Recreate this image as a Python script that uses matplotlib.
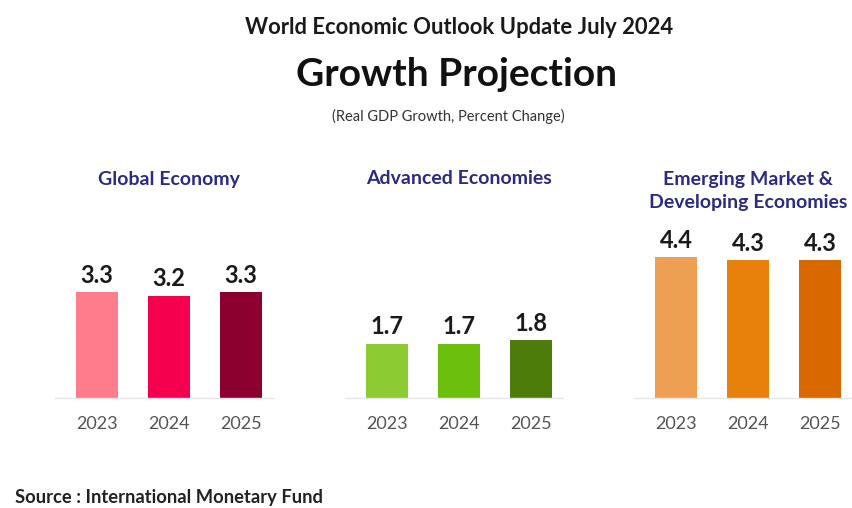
import matplotlib
matplotlib.use("Agg")
import matplotlib.pyplot as plt

plt.rcParams['font.family'] = ['Lato', 'DejaVu Sans']

# Data
years = ["2023", "2024", "2025"]
global_economy = [3.3, 3.2, 3.3]
advanced_economies = [1.7, 1.7, 1.8]
emerging_economies = [4.4, 4.3, 4.3]

panel_titles = ["Global Economy", "Advanced Economies",
                "Emerging Market &\nDeveloping Economies"]
panel_values = [global_economy, advanced_economies, emerging_economies]
panel_colors = [
    ["#FF7C8C", "#F5004F", "#8C0030"],
    ["#8CCB32", "#6CBF0C", "#4E7C0A"],
    ["#EEA052", "#E8800C", "#DA6800"],
]

W, H = 852, 508
fig = plt.figure(figsize=(W / 100, H / 100), dpi=100, facecolor="white")

def fx(px):
    return px / W

def fy(py):
    return 1 - py / H

# Panel axes: first bar centre px, x limits (in bar units)
slot_px = 72.0
panels = [
    (97, (-0.58, 2.45)),
    (387, (-0.58, 2.45)),
    (676, (-0.58, 2.44)),
]
baseline_px = 398
units_px = 32.0
ymax = 5.0
for (c0, (x0, x1)), vals, cols, title, tx in zip(panels, panel_values, panel_colors,
                                                  panel_titles, [169, 459, 748]):
    left = c0 + x0 * slot_px
    width = (x1 - x0) * slot_px
    ax = fig.add_axes([fx(left), (H - baseline_px) / H, width / W, ymax * units_px / H])
    x = range(len(years))
    bars = ax.bar(x, vals, width=0.57, color=cols)
    ax.bar_label(bars, labels=[f"{v:.1f}" for v in vals], padding=4,
                 fontsize=17, fontweight="bold", color="#1a1a1a")
    ax.set_xlim(x0, x1)
    ax.set_ylim(0, ymax)
    ax.set_xticks(list(x))
    ax.set_xticklabels(years, fontsize=13, color="#555555")
    ax.tick_params(axis="x", length=0, pad=13)
    ax.set_yticks([])
    for s in ["top", "left", "right"]:
        ax.spines[s].set_visible(False)
    ax.spines["bottom"].set_color("#E6E6E6")
    ax.spines["bottom"].set_linewidth(1.0)
    ax.set_facecolor("none")
    if "\n" in title:
        fig.text(fx(tx), fy(191), title, ha="center", va="center", fontsize=14,
                 fontweight="bold", color="#2B2B85", linespacing=1.45)
    else:
        fig.text(fx(tx), fy(179), title, ha="center", va="center", fontsize=14,
                 fontweight="bold", color="#2B2B85")

fig.text(fx(459), fy(28), "World Economic Outlook Update July 2024", ha="center",
         va="center", fontsize=15.8, fontweight="bold", color="#1a1a1a")
fig.text(fx(457), fy(74), "Growth Projection", ha="center", va="center",
         fontsize=28, fontweight="bold", color="#111111")
fig.text(fx(448), fy(116), "(Real GDP Growth, Percent Change)", ha="center",
         va="center", fontsize=10.5, color="#333333")
fig.text(fx(15), fy(497), "Source : International Monetary Fund", ha="left",
         va="center", fontsize=13.2, fontweight="bold", color="#222222")

fig.savefig("out.png", dpi=100, facecolor="white")
